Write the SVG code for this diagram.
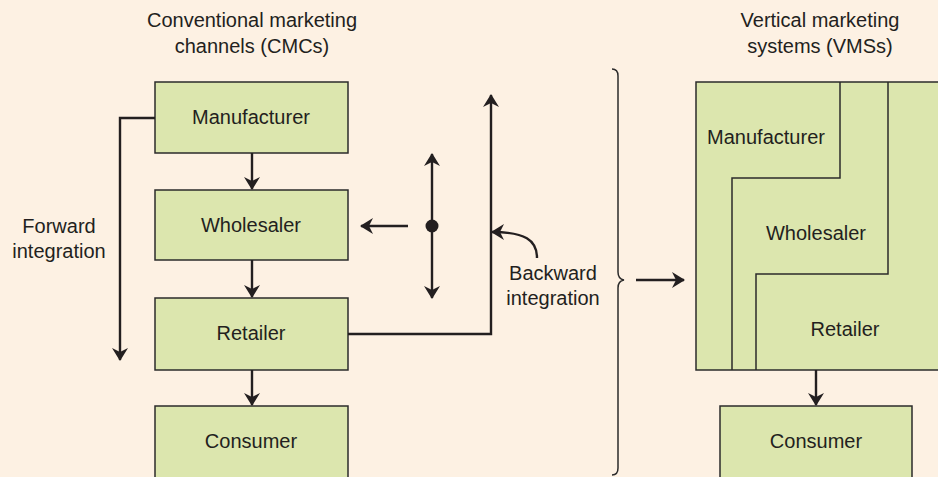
<svg xmlns="http://www.w3.org/2000/svg" width="938" height="477" viewBox="0 0 938 477">
  <defs>
    <style>
      .box { fill: #dce6ae; stroke: #2b2b2b; stroke-width: 1.5; }
      .lbl { font-family: "Liberation Sans", Arial, sans-serif; font-size: 20px; fill: #231f20; text-anchor: middle; }
      .ln { fill: none; stroke: #231f20; stroke-width: 2.4; }
      .thin { fill: none; stroke: #2b2b2b; stroke-width: 1.5; }
    </style>
    <marker id="ah" viewBox="0 0 13 16" refX="12" refY="8" markerWidth="13" markerHeight="16" markerUnits="userSpaceOnUse" orient="auto">
      <path d="M0,0 L13,8 L0,16 L4,8 Z" fill="#231f20"/>
    </marker>
  </defs>
  <rect width="938" height="477" fill="#fdf1e3"/>

  <!-- column headings -->
  <text class="lbl" x="252" y="27">Conventional marketing</text>
  <text class="lbl" x="252" y="53">channels (CMCs)</text>
  <text class="lbl" x="820" y="27">Vertical marketing</text>
  <text class="lbl" x="820" y="53">systems (VMSs)</text>

  <!-- conventional channel -->
  <g id="cmc-manufacturer">
    <rect class="box" x="155" y="82" width="193" height="71"/>
    <text class="lbl" x="251" y="124">Manufacturer</text>
  </g>
  <g id="cmc-wholesaler">
    <rect class="box" x="155" y="190" width="193" height="70"/>
    <text class="lbl" x="251" y="232">Wholesaler</text>
  </g>
  <g id="cmc-retailer">
    <rect class="box" x="155" y="298" width="193" height="72"/>
    <text class="lbl" x="251" y="340">Retailer</text>
  </g>
  <g id="cmc-consumer">
    <rect class="box" x="155" y="406" width="193" height="80"/>
    <text class="lbl" x="251" y="448">Consumer</text>
  </g>

  <!-- vertical marketing system -->
  <g id="vms">
    <rect class="box" x="696" y="82" width="250" height="288"/>
    <path class="thin" d="M840,82 V178 H732 V370"/>
    <path class="thin" d="M888,82 V274 H756 V370"/>
    <text class="lbl" x="766" y="144">Manufacturer</text>
    <text class="lbl" x="816" y="240">Wholesaler</text>
    <text class="lbl" x="845" y="336">Retailer</text>
  </g>
  <g id="vms-consumer">
    <rect class="box" x="720" y="406" width="192" height="80"/>
    <text class="lbl" x="816" y="448">Consumer</text>
  </g>

  <!-- side labels -->
  <text class="lbl" x="59" y="233">Forward</text>
  <text class="lbl" x="59" y="258">integration</text>
  <text class="lbl" x="553" y="280">Backward</text>
  <text class="lbl" x="553" y="305">integration</text>

  <!-- brace -->
  <path class="thin" d="M612,69 Q618,69 618,76 V272 Q618,279 624,280 Q618,281 618,288 V468 Q618,475 612,475"/>

  <g id="connectors">
    <line class="ln" x1="252" y1="153" x2="252" y2="189" marker-end="url(#ah)"/>
    <line class="ln" x1="252" y1="260" x2="252" y2="297" marker-end="url(#ah)"/>
    <line class="ln" x1="252" y1="370" x2="252" y2="405" marker-end="url(#ah)"/>
    <polyline class="ln" points="155,118 120,118 120,360" marker-end="url(#ah)"/>
    <polyline class="ln" points="348,334 491,334 491,95" marker-end="url(#ah)"/>
    <line class="ln" x1="408" y1="226" x2="361" y2="226" marker-end="url(#ah)"/>
    <line class="ln" x1="432" y1="226" x2="432" y2="154" marker-end="url(#ah)"/>
    <line class="ln" x1="432" y1="226" x2="432" y2="298" marker-end="url(#ah)"/>
    <circle cx="432" cy="226" r="6.5" fill="#231f20"/>
    <path class="ln" d="M537,258 C537,240 525,232 492,232" marker-end="url(#ah)"/>
    <line class="ln" x1="636" y1="280" x2="684" y2="280" marker-end="url(#ah)"/>
    <line class="ln" x1="816" y1="370" x2="816" y2="405" marker-end="url(#ah)"/>
  </g>
</svg>
